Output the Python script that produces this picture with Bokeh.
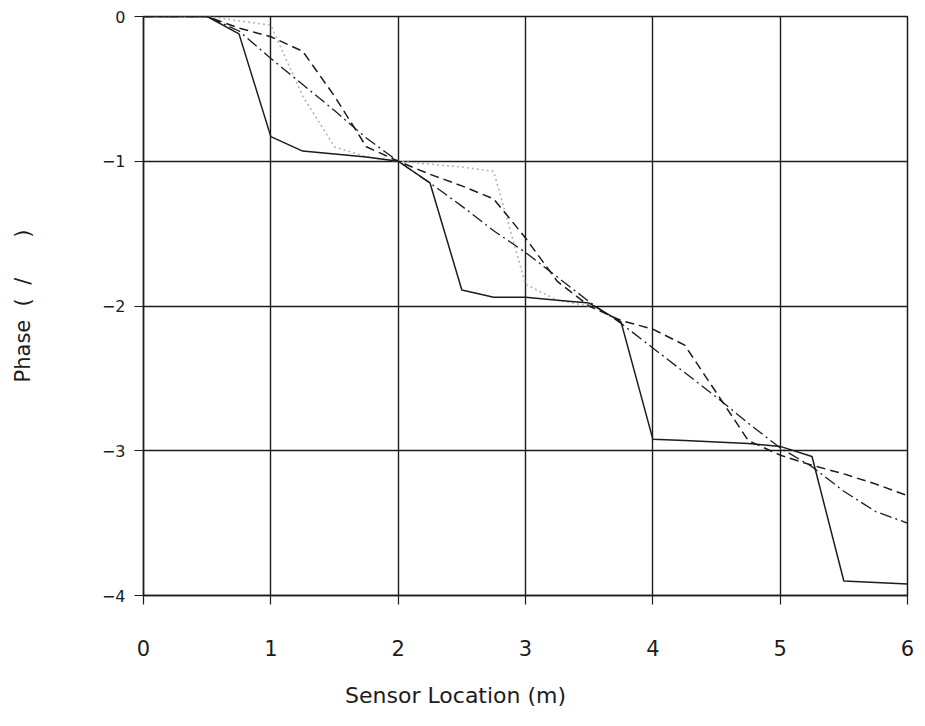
from bokeh.plotting import figure
from bokeh.models import Range1d, FixedTicker
from bokeh.embed import file_html
from bokeh.resources import INLINE

# Sensor locations (m)
x = [0, 0.25, 0.5, 0.75, 1, 1.25, 1.5, 1.75, 2, 2.25, 2.5, 2.75, 3,
     3.25, 3.5, 3.75, 4, 4.25, 4.5, 4.75, 5, 5.25, 5.5, 5.75, 6]

# Phase values
solid = [0, 0, 0, -0.12, -0.83, -0.93, -0.95, -0.97, -1.0, -1.15, -1.89, -1.94, -1.94,
         -1.96, -1.98, -2.11, -2.92, -2.93, -2.94, -2.95, -2.97, -3.04, -3.9, -3.91, -3.92]
dashed = [0, 0, 0, -0.08, -0.14, -0.24, -0.55, -0.9, -1.0, -1.09, -1.17, -1.26, -1.53,
          -1.83, -2.0, -2.1, -2.16, -2.27, -2.6, -2.93, -3.03, -3.1, -3.16, -3.23, -3.31]
dashdot = [0, 0, 0, -0.1, -0.29, -0.47, -0.65, -0.84, -1.0, -1.15, -1.31, -1.48, -1.63,
           -1.8, -1.97, -2.12, -2.29, -2.46, -2.63, -2.81, -2.98, -3.11, -3.28, -3.42, -3.5]
dotted_x = [0, 0.25, 0.5, 0.75, 1, 1.25, 1.5, 1.75, 2, 2.25, 2.5, 2.75, 3, 3.25, 3.5]
dotted = [0, 0, 0, -0.03, -0.06, -0.55, -0.9, -0.97, -1.0, -1.02, -1.04, -1.07, -1.85, -1.96, -2.0]

x_ticks = [0, 1, 2, 3, 4, 5, 6]
y_ticks = [0, -1, -2, -3, -4]
y_tick_labels = {0: "0", -1: "\u22121", -2: "\u22122", -3: "\u22123", -4: "\u22124"}

# trailing no-break spaces shift the centred title to the left, as in the reference
x_title = "Sensor Location (m)" + "\u00a0" * 20
y_title = "Phase\u00a0\u00a0(\u00a0\u00a0/\u00a0\u00a0\u00a0\u00a0\u00a0\u00a0)"

FONT = "DejaVu Sans"
INK = "#1c1c1c"

p = figure(width=917, height=718, output_backend="svg", toolbar_location=None,
           x_range=Range1d(0, 6), y_range=Range1d(-4, 0),
           min_border_left=143, min_border_right=10, min_border_top=16, min_border_bottom=123)

p.outline_line_color = INK
p.outline_line_width = 1.5
p.background_fill_color = "white"
p.border_fill_color = "white"

for g in (p.xgrid, p.ygrid):
    g.grid_line_color = INK
    g.grid_line_width = 1.4
    g.grid_line_alpha = 1.0

p.xaxis.ticker = FixedTicker(ticks=x_ticks)
p.yaxis.ticker = FixedTicker(ticks=y_ticks)
p.yaxis.major_label_overrides = y_tick_labels

for ax in (p.xaxis, p.yaxis):
    ax.axis_line_color = INK
    ax.axis_line_width = 1.4
    ax.major_tick_line_color = INK
    ax.major_tick_line_width = 1.2
    ax.major_tick_in = 0
    ax.major_tick_out = 9
    ax.minor_tick_line_color = None
    ax.major_label_text_font = FONT
    ax.major_label_text_color = INK
    ax.axis_label_text_font = FONT
    ax.axis_label_text_font_style = "normal"
    ax.axis_label_text_color = INK

p.xaxis.major_label_text_font_size = "21px"
p.xaxis.major_label_standoff = 35
p.xaxis.axis_label = x_title
p.xaxis.axis_label_text_font_size = "22px"
p.xaxis.axis_label_standoff = 24

p.yaxis.major_label_text_font_size = "16px"
p.yaxis.major_label_standoff = 9
p.yaxis.axis_label = y_title
p.yaxis.axis_label_text_font_size = "21px"
p.yaxis.axis_label_standoff = 64

p.line(dotted_x, dotted, line_color="#b5b5b5", line_width=1.6, line_dash="2 3")
p.line(x, dashdot, line_color=INK, line_width=1.3, line_dash="12 4 2 4")
p.line(x, dashed, line_color=INK, line_width=1.5, line_dash="9 5")
p.line(x, solid, line_color=INK, line_width=1.5)

open("out.html", "w").write(file_html(p, INLINE))
